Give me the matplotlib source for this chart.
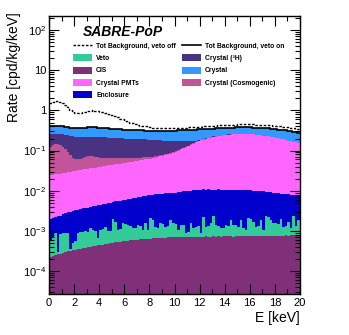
import numpy as np
import matplotlib
matplotlib.use('Agg')
import matplotlib.pyplot as plt
from matplotlib.ticker import FixedLocator, MultipleLocator, FuncFormatter, NullFormatter
from matplotlib.patches import Patch
from matplotlib.lines import Line2D

plt.rcParams['font.family'] = ['Liberation Sans', 'DejaVu Sans']
plt.rcParams['mathtext.fontset'] = 'custom'
plt.rcParams['mathtext.rm'] = 'Liberation Sans'
plt.rcParams['mathtext.it'] = 'Liberation Sans:italic'
plt.rcParams['mathtext.bf'] = 'Liberation Sans:bold'

# ---------------- data (cpd/kg/keV), 100 bins of 0.2 keV from 0 to 20 keV ----------------
energy_edges = np.arange(0, 20.0001, 0.2)

cis = [0.00022, 0.00023, 0.00025, 0.00026, 0.00027,
       0.00028, 0.00029, 0.00031, 0.00032, 0.00033,
       0.00034, 0.00035, 0.00036, 0.00037, 0.00038,
       0.00039, 0.00040, 0.00041, 0.00042, 0.00043,
       0.00044, 0.00045, 0.00046, 0.00048, 0.00049,
       0.00050, 0.00051, 0.00052, 0.00054, 0.00055,
       0.00056, 0.00057, 0.00058, 0.00058, 0.00059,
       0.00060, 0.00061, 0.00062, 0.00063, 0.00063,
       0.00064, 0.00065, 0.00065, 0.00066, 0.00066,
       0.00067, 0.00067, 0.00068, 0.00068, 0.00069,
       0.00069, 0.00068, 0.00070, 0.00069, 0.00070, 0.00071, 0.00070, 0.00069, 0.00070, 0.00071,
       0.00070, 0.00071, 0.00072, 0.00070, 0.00071, 0.00072, 0.00071, 0.00072, 0.00071, 0.00072,
       0.00072, 0.00073, 0.00072, 0.00071, 0.00073, 0.00072, 0.00073, 0.00074, 0.00072, 0.00073,
       0.00073, 0.00074, 0.00073, 0.00074, 0.00075, 0.00074, 0.00073, 0.00075, 0.00074, 0.00075,
       0.00075, 0.00076, 0.00075, 0.00076, 0.00077, 0.00076, 0.00077, 0.00078, 0.00077, 0.00079]

veto = [0.00038, 0.00047, 0.00065, 0.00004, 0.00058,
        0.00062, 0.00059, 0.00059, 0.00003, 0.00017,
        0.00021, 0.00055, 0.00059, 0.00055, 0.00062,
        0.00056, 0.00076, 0.00064, 0.00054, 0.00023,
        0.00061, 0.00065, 0.00081, 0.00048, 0.00051,
        0.00150, 0.00119, 0.00053, 0.00056, 0.00100,
        0.00094, 0.00083, 0.00077, 0.00058, 0.00061,
        0.00080, 0.00074, 0.00043, 0.00092, 0.00042,
        0.00146, 0.00125, 0.00062, 0.00054, 0.00089,
        0.00083, 0.00060, 0.00062, 0.00118, 0.00086,
        0.00081, 0.00037, 0.00070, 0.00071, 0.00017,
        0.00024, 0.00085, 0.00047, 0.00057, 0.00059,
        0.00017, 0.00149, 0.00055, 0.00060, 0.00084,
        0.00168, 0.00069, 0.00063, 0.00045, 0.00048,
        0.00068, 0.00062, 0.00114, 0.00069, 0.00067,
        0.00055, 0.00113, 0.00046, 0.00033, 0.00137,
        0.00127, 0.00096, 0.00054, 0.00056, 0.00111,
        0.00031, 0.00157, 0.00145, 0.00112, 0.00085,
        0.00080, 0.00074, 0.00125, 0.00051, 0.00053,
        0.00094, 0.00039, 0.00162, 0.00053, 0.00107]

enclosure = [0.00140, 0.00140, 0.00130, 0.00200, 0.00155,
             0.00170, 0.00182, 0.00200, 0.00265, 0.00260,
             0.00275, 0.00240, 0.00245, 0.00268, 0.00270,
             0.00285, 0.00274, 0.00305, 0.00324, 0.00364,
             0.00335, 0.00350, 0.00343, 0.00394, 0.00400,
             0.00310, 0.00370, 0.00445, 0.00450, 0.00415,
             0.00430, 0.00470, 0.00495, 0.00534, 0.00540,
             0.00540, 0.00575, 0.00615, 0.00595, 0.00665,
             0.00570, 0.00610, 0.00693, 0.00710, 0.00695,
             0.00700, 0.00743, 0.00750, 0.00704, 0.00735,
             0.00740, 0.00815, 0.00800, 0.00820, 0.00883,
             0.00885, 0.00855, 0.00904, 0.00913, 0.00920,
             0.00963, 0.00850, 0.00933, 0.00950, 0.00905,
             0.00820, 0.00910, 0.00935, 0.00934, 0.00920,
             0.00900, 0.00915, 0.00844, 0.00910, 0.00900,
             0.00913, 0.00844, 0.00920, 0.00915, 0.00820,
             0.00830, 0.00840, 0.00873, 0.00860, 0.00784,
             0.00865, 0.00720, 0.00710, 0.00724, 0.00730,
             0.00725, 0.00720, 0.00650, 0.00713, 0.00690,
             0.00650, 0.00684, 0.00550, 0.00650, 0.00594]

crystal_pmts = [0.0223, 0.0228, 0.0233, 0.0238, 0.0243,
                0.0248, 0.0255, 0.0261, 0.0268, 0.0275,
                0.0281, 0.0289, 0.0296, 0.0302, 0.0309,
                0.0316, 0.0323, 0.0329, 0.0336, 0.0343,
                0.0351, 0.0359, 0.0368, 0.0376, 0.0385,
                0.0394, 0.0401, 0.0410, 0.0419, 0.0428,
                0.0438, 0.0447, 0.0457, 0.0467, 0.0478,
                0.0489, 0.0500, 0.0513, 0.0524, 0.0536,
                0.0552, 0.0570, 0.0588, 0.0617, 0.0635,
                0.0665, 0.0693, 0.0722, 0.0751, 0.0781,
                0.0831, 0.0898, 0.0976, 0.1044, 0.1113,
                0.1202, 0.1299, 0.1398, 0.1496, 0.1595,
                0.1685, 0.1763, 0.1844, 0.1922, 0.2004,
                0.2074, 0.2135, 0.2193, 0.2255, 0.2316,
                0.2356, 0.2385, 0.2407, 0.2425, 0.2456,
                0.2466, 0.2477, 0.2476, 0.2478, 0.2467,
                0.2447, 0.2419, 0.2390, 0.2361, 0.2323,
                0.2273, 0.2215, 0.2157, 0.2099, 0.2041,
                0.1982, 0.1923, 0.1865, 0.1806, 0.1748,
                0.1688, 0.1630, 0.1571, 0.1512, 0.1452]

crystal_cosmogenic = [0.1007, 0.1101, 0.1165, 0.1169, 0.1113,
                      0.0976, 0.0798, 0.0610, 0.0472, 0.0364,
                      0.0296, 0.0278, 0.0290, 0.0322, 0.0354,
                      0.0366, 0.0368, 0.0350, 0.0322, 0.0294,
                      0.0275, 0.0255, 0.0245, 0.0225, 0.0215,
                      0.0205, 0.0195, 0.0185, 0.0175, 0.0165,
                      0.0154, 0.0142, 0.0140, 0.0128, 0.0116,
                      0.0113, 0.0099, 0.0095, 0.0081, 0.0077,
                      0.0070, 0.0060, 0.0060, 0.0040, 0.0040,
                      0.0030, 0.0030, 0.0030, 0.0030, 0.0035,
                      0.0030, 0.0030, 0.0030, 0.0029, 0.0028, 0.0027, 0.0026, 0.0025, 0.0024, 0.0023,
                      0.0022, 0.0021, 0.0020, 0.0020, 0.0019, 0.0019, 0.0018, 0.0018, 0.0017, 0.0017,
                      0.0016, 0.0016, 0.0015, 0.0015, 0.0015, 0.0014, 0.0014, 0.0014, 0.0013, 0.0013,
                      0.0013, 0.0012, 0.0012, 0.0012, 0.0012, 0.0011, 0.0011, 0.0011, 0.0011, 0.0010,
                      0.0010, 0.0010, 0.0010, 0.0010, 0.0010, 0.0010, 0.0010, 0.0010, 0.0010, 0.0010]

crystal_tritium = [0.133, 0.127, 0.123, 0.122, 0.124,
                   0.131, 0.140, 0.150, 0.156, 0.160,
                   0.162, 0.160, 0.157, 0.153, 0.150,
                   0.149, 0.148, 0.148, 0.149, 0.149,
                   0.148, 0.148, 0.146, 0.146, 0.144,
                   0.143, 0.141, 0.140, 0.138, 0.137,
                   0.135, 0.134, 0.131, 0.130, 0.128,
                   0.126, 0.125, 0.122, 0.121, 0.118,
                   0.116, 0.114, 0.110, 0.108, 0.104,
                   0.100, 0.096, 0.091, 0.087, 0.0815,
                   0.076, 0.068, 0.060, 0.053, 0.046,
                   0.038, 0.029, 0.0215, 0.0146, 0.0087,
                   0.0075, 0.0070, 0.0065, 0.0060, 0.0056, 0.0052, 0.0048, 0.0044, 0.0040, 0.0037,
                   0.0034, 0.0031, 0.0028, 0.0025, 0.0022, 0.0020, 0.0018, 0.0016, 0.0014, 0.0012,
                   0.0010, 0.0009, 0.0008, 0.0007, 0.0006, 0.0005, 0.0004, 0.0003, 0.0002, 0.0002,
                   0.0001, 0.00005, 0.00002, 0, 0, 0, 0, 0, 0, 0]

crystal = [0.142, 0.148, 0.155, 0.155, 0.148,
           0.144, 0.142, 0.140, 0.142, 0.143,
           0.145, 0.148, 0.151, 0.154, 0.156,
           0.157, 0.158, 0.159, 0.158, 0.157,
           0.156, 0.153, 0.151, 0.148, 0.146,
           0.143, 0.141, 0.138, 0.136, 0.133,
           0.132, 0.130, 0.129, 0.128, 0.128,
           0.127, 0.126, 0.127, 0.126, 0.127,
           0.127, 0.127, 0.128, 0.129, 0.130,
           0.132, 0.133, 0.136, 0.138, 0.141,
           0.144, 0.147, 0.149, 0.151, 0.153,
           0.154, 0.156, 0.157, 0.157, 0.156,
           0.151, 0.147, 0.1425, 0.138, 0.1335,
           0.130, 0.127, 0.125, 0.122, 0.120,
           0.119, 0.118, 0.119, 0.119, 0.118,
           0.119, 0.119, 0.119, 0.119, 0.120,
           0.121, 0.122, 0.123, 0.123, 0.124,
           0.126, 0.1285, 0.1306, 0.1327, 0.1348,
           0.132, 0.132, 0.132, 0.132, 0.133,
           0.134, 0.130, 0.126, 0.123, 0.121]

tot_veto_off = [1.58, 1.66, 1.70, 1.70, 1.65,
                1.52, 1.37, 1.20, 1.05, 0.95,
                0.89, 0.87, 0.88, 0.91, 0.94,
                0.97, 0.99, 1.00, 0.99, 0.97,
                0.94, 0.91, 0.87, 0.83, 0.79,
                0.75, 0.71, 0.67, 0.63, 0.60,
                0.56, 0.53, 0.50, 0.48, 0.46,
                0.44, 0.42, 0.41, 0.40, 0.39,
                0.38, 0.375, 0.37, 0.365, 0.36,
                0.36, 0.36, 0.36, 0.36, 0.36,
                0.362, 0.365, 0.368, 0.371, 0.374,
                0.377, 0.380, 0.384, 0.388, 0.392,
                0.396, 0.400, 0.404, 0.408, 0.412,
                0.416, 0.420, 0.424, 0.428, 0.432,
                0.435, 0.438, 0.441, 0.443, 0.445,
                0.447, 0.448, 0.449, 0.449, 0.449,
                0.448, 0.447, 0.445, 0.443, 0.440,
                0.437, 0.433, 0.429, 0.425, 0.421,
                0.414, 0.407, 0.400, 0.393, 0.386,
                0.378, 0.368, 0.358, 0.348, 0.338]

y_major_ticks = [1e-4, 1e-3, 1e-2, 1e-1, 1, 10, 100]

# stacking order bottom -> top
components = [
    ("CIS", cis, "#7f3078"),
    ("Veto", veto, "#33cc99"),
    ("Enclosure", enclosure, "#0000cc"),
    ("Crystal PMTs", crystal_pmts, "#ff66ff"),
    ("Crystal (Cosmogenic)", crystal_cosmogenic, "#c2559a"),
    ("Crystal (\u00b3H)", crystal_tritium, "#4a3282"),
    ("Crystal", crystal, "#3399ff"),
]
for name, vals, _ in components:
    assert len(vals) == len(energy_edges) - 1, name
assert len(tot_veto_off) == len(energy_edges) - 1

W, H = 349, 335
fig = plt.figure(figsize=(W / 100, H / 100), dpi=100)
fig.patch.set_facecolor('white')
ax = fig.add_axes([49 / W, 1 - 294 / H, 251 / W, 278 / H])

base = np.zeros(len(energy_edges) - 1)
handles = {}
for name, vals, color in components:
    top = base + np.asarray(vals)
    ax.stairs(top, energy_edges, baseline=base, fill=True, color=color, lw=0)
    handles[name] = Patch(facecolor=color, edgecolor='none')
    base = top

ax.stairs(base, energy_edges, baseline=None, color='black', lw=1.2)
ax.stairs(tot_veto_off, energy_edges, baseline=None, color='black', lw=1.0, ls=(0, (1.8, 1.2)))

ax.set_yscale('log')
ax.set_xlim(0, 20)
ax.set_ylim(2.65e-5, 227)

def fmt(v, pos):
    k = int(round(np.log10(v)))
    if k == 0:
        return '1'
    if k == 1:
        return '10'
    return r'$10^{%d}$' % k

minor = [m * 10.0 ** k for k in range(-5, 3) for m in range(2, 10) if 2.65e-5 <= m * 10.0 ** k <= 227]
ax.yaxis.set_major_locator(FixedLocator(y_major_ticks))
ax.yaxis.set_minor_locator(FixedLocator(minor))
ax.yaxis.set_major_formatter(FuncFormatter(fmt))
ax.yaxis.set_minor_formatter(NullFormatter())
ax.xaxis.set_major_locator(MultipleLocator(2))
ax.xaxis.set_minor_locator(MultipleLocator(1))

ax.tick_params(which='both', direction='in', top=True, right=True, width=0.8, labelsize=8)
ax.tick_params(which='major', length=7)
ax.tick_params(which='minor', length=3.5)
ax.tick_params(axis='x', pad=3)
ax.tick_params(axis='y', pad=2)
for s in ax.spines.values():
    s.set_linewidth(1.0)

fig.text(14 / W, 1 - 12 / H, 'Rate [cpd/kg/keV]', rotation=90, ha='center', va='top', fontsize=10)
fig.text(300 / W, 1 - 311 / H, 'E [keV]', ha='right', va='top', fontsize=10)
fig.text(83 / W, 1 - 32 / H, 'SABRE-PoP', ha='left', va='center', fontsize=10,
         fontweight='bold', fontstyle='italic')

order = [
    (Line2D([], [], color='black', lw=1.0, ls=(0, (1.8, 1.2))), 'Tot Background, veto off'),
    (handles['Veto'], 'Veto'),
    (handles['CIS'], 'CIS'),
    (handles['Crystal PMTs'], 'Crystal PMTs'),
    (handles['Enclosure'], 'Enclosure'),
    (Line2D([], [], color='black', lw=1.2), 'Tot Background, veto on'),
    (handles['Crystal (\u00b3H)'], 'Crystal (\u00b3H)'),
    (handles['Crystal'], 'Crystal'),
    (handles['Crystal (Cosmogenic)'], 'Crystal (Cosmogenic)'),
]
fs = 4.9
leg = ax.legend([h for h, _ in order], [l for _, l in order], ncol=2, frameon=False,
                loc='upper left', bbox_to_anchor=(73 / W, 1 - 42 / H), bbox_transform=fig.transFigure,
                borderpad=0, borderaxespad=0, handlelength=19 / (fs * 100 / 72),
                handleheight=8 / (fs * 100 / 72), handletextpad=0.6, labelspacing=0.68,
                columnspacing=0.9, prop={'weight': 'bold', 'size': fs})

fig.savefig('out.png', dpi=100, facecolor='white')
